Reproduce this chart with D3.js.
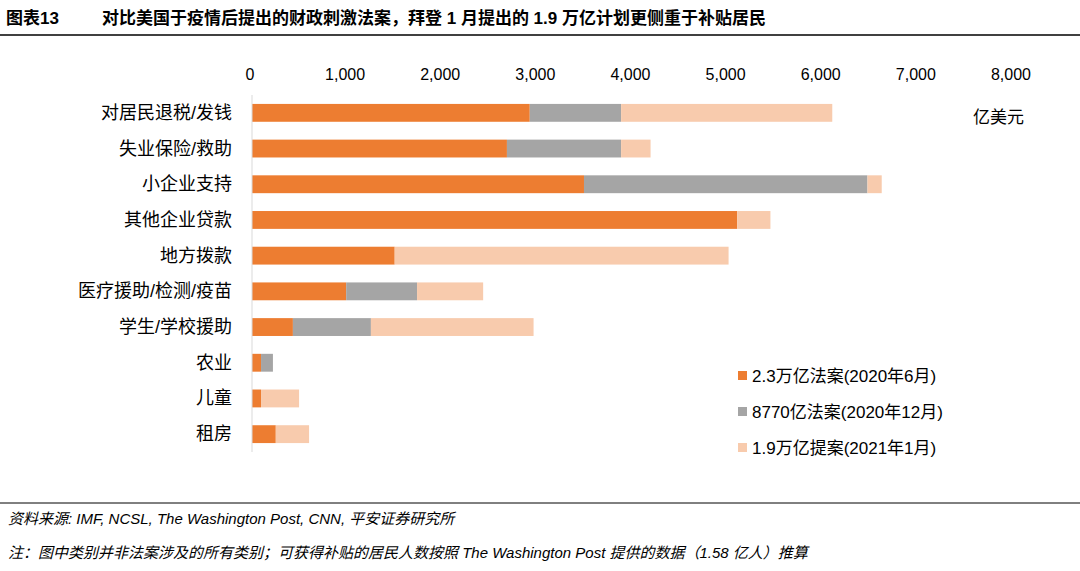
<!DOCTYPE html>
<html><head><meta charset="utf-8">
<script src="https://cdn.jsdelivr.net/npm/d3@7"></script>
<style>body{margin:0;background:#fff;font-family:"Liberation Sans","Noto Sans CJK SC",sans-serif}</style>
</head><body><svg id="c" width="1080" height="571"></svg>
<script>
const categories = ['对居民退税/发钱','失业保险/救助','小企业支持','其他企业贷款','地方拨款','医疗援助/检测/疫苗','学生/学校援助','农业','儿童','租房'];
const seriesNames = ['2.3万亿法案(2020年6月)','8770亿法案(2020年12月)','1.9万亿提案(2021年1月)'];
const june2020 = [2920,2680,3490,5100,1500,990,430,95,95,250];
const dec2020 = [960,1200,2980,0,0,745,820,125,0,0];
const jan2021 = [2220,310,150,350,3510,695,1710,0,400,350];
const ticks = [0,1000,2000,3000,4000,5000,6000,7000,8000];
const colors = ['#ED7D31','#A5A5A5','#F8CBAD'];

const svg = d3.select('#c');
const font = '"Liberation Sans","Noto Sans CJK SC",sans-serif';

// title
svg.append('text').attr('x',6).attr('y',24).attr('font-size',17).attr('font-weight','bold').attr('font-family',font).text('图表13');
svg.append('text').attr('x',102).attr('y',24).attr('font-size',17).attr('font-weight','bold').attr('font-family',font)
  .text('对比美国于疫情后提出的财政刺激法案，拜登 1 月提出的 1.9 万亿计划更侧重于补贴居民');
svg.append('line').attr('x1',0).attr('x2',1080).attr('y1',35).attr('y2',35).attr('stroke','#000').attr('stroke-width',1.5);

const x = d3.scaleLinear().domain([0,8000]).range([252,1013]);
const y = d3.scaleBand().domain(categories).range([95,452]).paddingInner(0.5).paddingOuter(0.25);

const data = categories.map((c,i)=>({cat:c,a:june2020[i],b:dec2020[i],c:jan2021[i]}));
const stack = d3.stack().keys(['a','b','c'])(data);
svg.append('g').selectAll('g').data(stack).join('g').attr('fill',(d,i)=>colors[i])
  .selectAll('rect').data(d=>d).join('rect')
  .attr('x',d=>x(d[0])).attr('width',d=>x(d[1])-x(d[0]))
  .attr('y',d=>y(d.data.cat)).attr('height',y.bandwidth());

// top axis labels
svg.append('g').selectAll('text').data(ticks).join('text')
  .attr('x',d=>x(d)-2).attr('y',80).attr('text-anchor','middle').attr('font-size',16).attr('font-family',font)
  .text(d=>d3.format(',')(d));
svg.append('line').attr('x1',x(0)).attr('x2',x(0)).attr('y1',95).attr('y2',452).attr('stroke','#d9d9d9');

// category labels
svg.append('g').selectAll('text').data(categories).join('text')
  .attr('x',232).attr('y',d=>y(d)+y.bandwidth()/2+6).attr('text-anchor','end').attr('font-size',18).attr('font-family',font)
  .text(d=>d);

svg.append('text').attr('x',973).attr('y',123).attr('font-size',17).attr('font-family',font).text('亿美元');

// legend
seriesNames.forEach((n,i)=>{
  const yy = 376 + i*36;
  svg.append('rect').attr('x',738).attr('y',yy-5).attr('width',9).attr('height',9).attr('fill',colors[i]);
  svg.append('text').attr('x',752).attr('y',yy+6).attr('font-size',17).attr('font-family',font).text(n);
});

// footer
svg.append('line').attr('x1',0).attr('x2',1080).attr('y1',503).attr('y2',503).attr('stroke','#000').attr('stroke-width',1);
svg.append('text').attr('x',8).attr('y',524).attr('font-size',15).attr('font-style','italic').attr('font-family',font)
  .text('资料来源: IMF, NCSL, The Washington Post, CNN, 平安证券研究所');
svg.append('text').attr('x',8).attr('y',558).attr('font-size',15).attr('font-style','italic').attr('font-family',font)
  .text('注：图中类别并非法案涉及的所有类别；可获得补贴的居民人数按照 The Washington Post 提供的数据（1.58 亿人）推算');
</script></body></html>
